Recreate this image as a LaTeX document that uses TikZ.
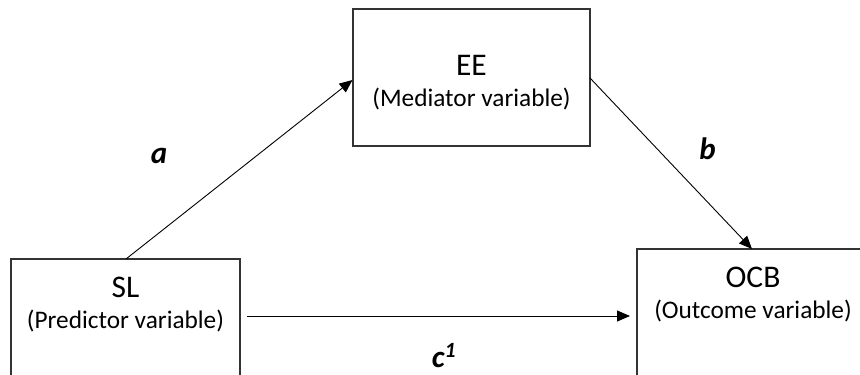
\documentclass[tikz,border=0pt]{standalone}
\usepackage{fontspec}
\setmainfont{Carlito}
\usetikzlibrary{arrows.meta}
\begin{document}
\begin{tikzpicture}[x=1pt,y=-1pt,
  boxstyle/.style={draw=black!80,line width=1.1pt,fill=none},
  titletext/.style={font=\fontsize{31.5}{33}\selectfont,anchor=base,inner sep=0pt},
  subtext/.style={font=\fontsize{25.3}{27}\selectfont,anchor=base,inner sep=0pt},
  pathlabel/.style={font=\fontsize{31}{33}\selectfont\bfseries\itshape,anchor=base,inner sep=0pt},
  conn/.style={line width=0.9pt,-{Triangle[length=13pt,width=11pt]}}]
\useasboundingbox (0,0) rectangle (860,375);
\clip (0,0) rectangle (860,375);
% boxes
\draw[boxstyle] (353,9) rectangle (590,146);
\draw[boxstyle] (11,259) rectangle (240,400);
\draw[boxstyle] (637,249) rectangle (880,400);
% texts
\node[titletext] (ee) at (471.5,75) {EE};
\node[subtext] (eesub) at (471.5,106) {(Mediator variable)};
\node[titletext] (sl) at (125.5,297) {SL};
\node[subtext] (slsub) at (125.5,328) {(Predictor variable)};
\node[titletext] (ocb) at (753,287) {OCB};
\node[subtext] (ocbsub) at (753,318) {(Outcome variable)};
% connector end points
\coordinate (aS) at (126,259);
\coordinate (aE) at (352.5,80);
\coordinate (bS) at (590,78);
\coordinate (bE) at (752,249);
\coordinate (cS) at (247,316);
\coordinate (cE) at (630,316);
\draw[conn] (aS) -- (aE);
\draw[conn] (bS) -- (bE);
\draw[conn] (cS) -- (cE);
% labels
\node[pathlabel] (la) at (159,163) {a};
\node[pathlabel] (lb) at (707.5,159) {b};
\node[pathlabel] (lc) at (444,367) {c\textsuperscript{1}};
\end{tikzpicture}
\end{document}
